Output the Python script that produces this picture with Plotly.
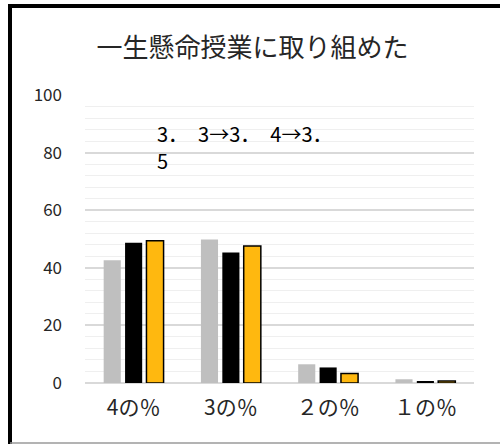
import plotly.graph_objects as go

categories = ["4の％", "3の％", "２の％", "１の％"]
series_names = ["1回目", "2回目", "3回目"]
values_1 = [42.6, 49.8, 6.5, 1.3]
values_2 = [48.7, 45.3, 5.4, 0.7]
values_3 = [49.4, 47.6, 3.3, 0.7]
title_text = "一生懸命授業に取り組めた"
note_lines = ["3．　3→3．　4→3．", "5"]

W, H = 500, 446
L, R, T, B = 85, 26, 95, 63
pw, ph = W - L - R, H - T - B

def px(x):
    return (x - L) / pw

def py(y):
    return (H - B - y) / ph

jp = "Noto Sans CJK JP, sans-serif"

fig = go.Figure()
fig.add_trace(go.Bar(x=categories, y=values_1, name=series_names[0],
                     marker=dict(color="#bfbfbf", line=dict(width=0))))
fig.add_trace(go.Bar(x=categories, y=values_2, name=series_names[1],
                     marker=dict(color="#000000", line=dict(width=0))))
fig.add_trace(go.Bar(x=categories, y=values_3, name=series_names[2],
                     marker=dict(color="#FFB80F", line=dict(color="#000000", width=1.5))))

# note text box, one annotation per line
note_y = [133, 160]
annotations = []
for line, yy in zip(note_lines, note_y):
    annotations.append(dict(text=line, x=px(155), y=py(yy), xref="paper", yref="paper",
                            xanchor="left", yanchor="middle", align="left", showarrow=False,
                            font=dict(family=jp, size=20, color="#000000")))

fig.update_layout(
    width=W, height=H,
    margin=dict(l=L, r=R, t=T, b=B),
    paper_bgcolor="white", plot_bgcolor="white",
    showlegend=False,
    barmode="group", bargap=0.34, bargroupgap=0.2,
    title=dict(text=title_text, x=0.505, xanchor="center", y=0.893, yanchor="middle",
               font=dict(family=jp, size=26, color="#262626")),
    font=dict(family=jp, color="#262626"),
    xaxis=dict(showgrid=False, showline=False, ticks="", zeroline=False,
               tickfont=dict(family=jp, size=21, color="#262626"),
               ticklabelstandoff=10),
    yaxis=dict(range=[0, 100], dtick=20, showline=False, zeroline=True,
               zerolinecolor="#d9d9d9", zerolinewidth=1.5,
               gridcolor="#d9d9d9", gridwidth=1.5,
               minor=dict(dtick=4, showgrid=True, gridcolor="#efefef", gridwidth=1),
               tickfont=dict(family=jp, size=17, color="#262626"),
               ticklabelstandoff=22),
    annotations=annotations,
    shapes=[
        dict(type="line", xref="paper", yref="paper", x0=px(8), x1=px(505), y0=py(6), y1=py(6),
             line=dict(color="#000000", width=4)),
        dict(type="line", xref="paper", yref="paper", x0=px(10), x1=px(10), y0=py(4), y1=py(444),
             line=dict(color="#000000", width=4)),
        dict(type="line", xref="paper", yref="paper", x0=px(10), x1=px(505), y0=py(443), y1=py(443),
             line=dict(color="#9a9a9a", width=1.5)),
    ],
)

fig.write_html("out.html", config={"displayModeBar": False},
               post_script="document.body.style.margin='0';document.body.style.overflow='hidden';")
